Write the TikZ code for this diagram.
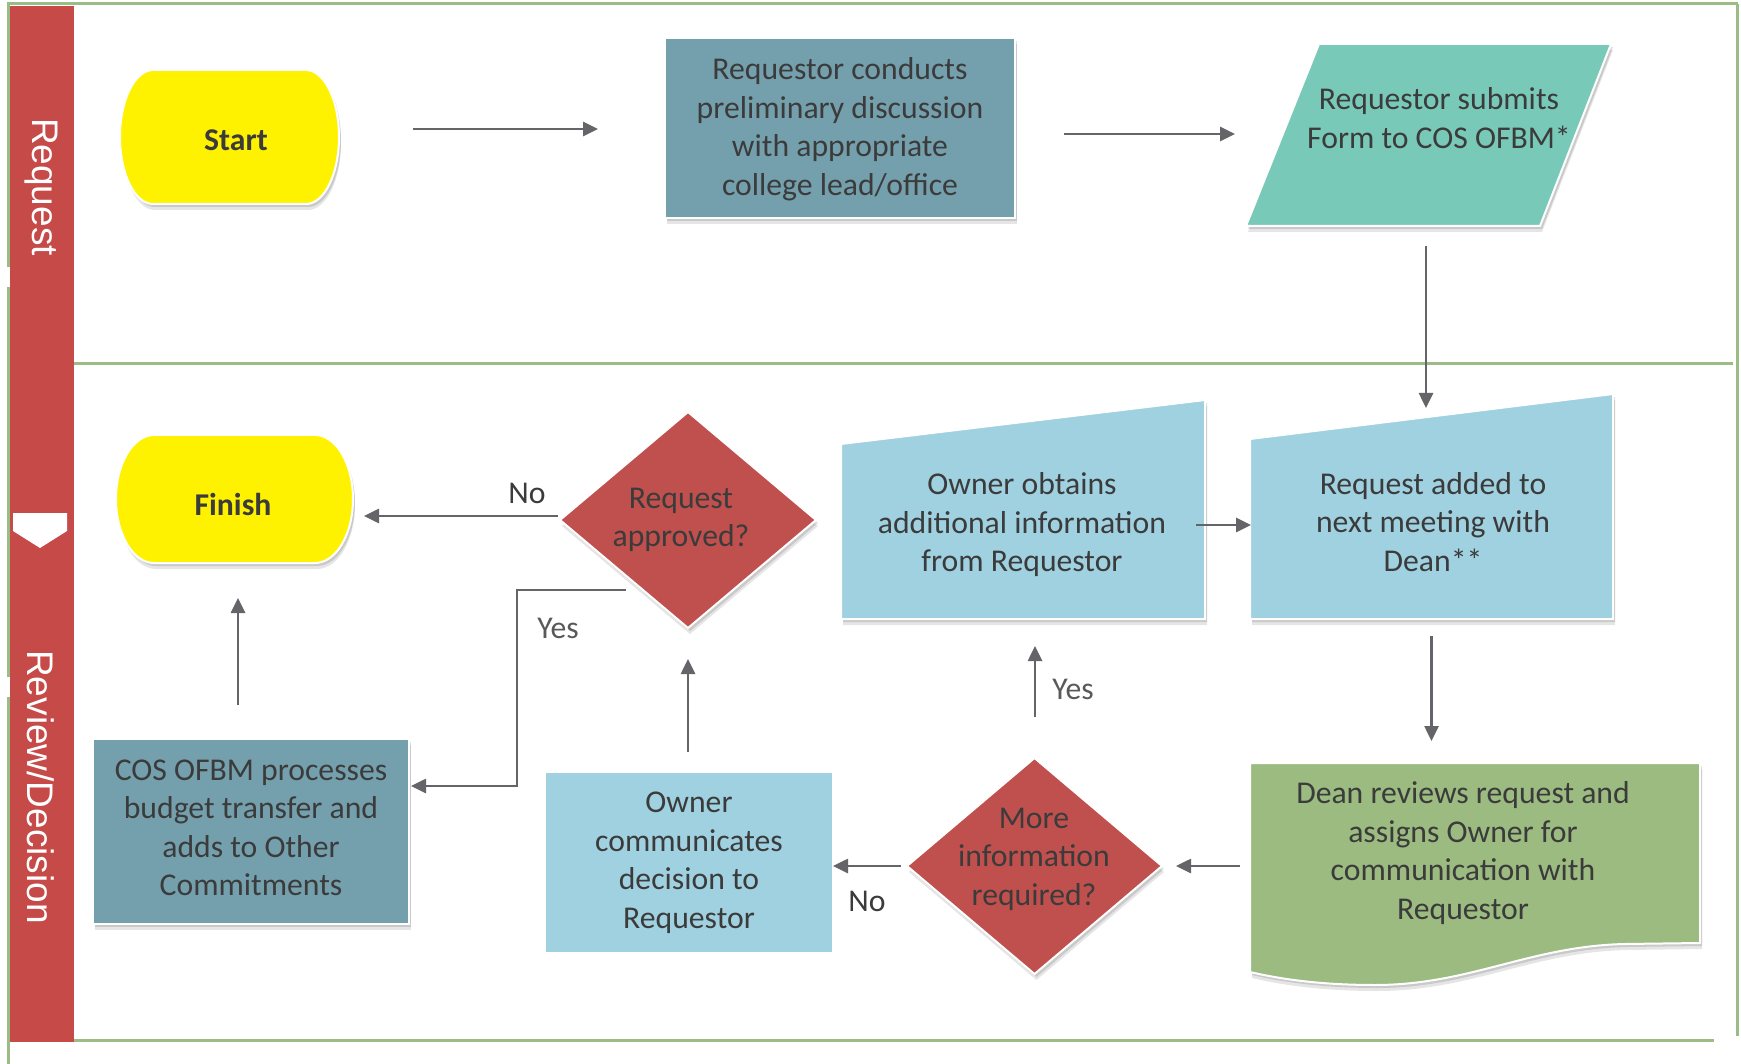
\documentclass[tikz,border=0pt]{standalone}
\usepackage{fontspec}
\setmainfont{Carlito}
\newfontfamily\lanefont{Liberation Sans}
\usetikzlibrary{arrows.meta,shadows}
\definecolor{framegreen}{HTML}{9CBC86}
\definecolor{lanered}{HTML}{C54A48}
\definecolor{steelbox}{HTML}{74A0AD}
\definecolor{tealbox}{HTML}{79C9B9}
\definecolor{lightblue}{HTML}{9FD1E0}
\definecolor{diamondred}{HTML}{C0504D}
\definecolor{docgreen}{HTML}{9BBB80}
\definecolor{textdark}{HTML}{3B3B3B}
\definecolor{arrowgrey}{HTML}{646469}
\definecolor{labelgrey}{HTML}{595959}
\begin{document}
\begin{tikzpicture}[x=1pt,y=-1pt,
  shapebox/.style={fill=#1, draw=white, line width=2pt, line join=miter,
     drop shadow={shadow xshift=2pt, shadow yshift=-6pt, opacity=0.10, fill=black},
     drop shadow={shadow xshift=2pt, shadow yshift=-3pt, opacity=0.12, fill=black}},
  flatbox/.style={fill=#1},
  txt/.style={text=textdark, align=center, inner sep=0pt,
     font=\fontsize{31.7}{38.5}\selectfont},
  boldtxt/.style={text=textdark, inner sep=0pt,
     font=\fontsize{31.7}{38.5}\selectfont\bfseries},
  lbl/.style={inner sep=0pt, font=\fontsize{31.7}{38.5}\selectfont},
  lanetxt/.style={text=white, inner sep=0pt, rotate=-90,
     font=\lanefont\fontsize{37}{44}\selectfont},
  arr/.style={draw=arrowgrey, line width=2.6pt,
     -{Triangle[length=15pt,width=14pt]}},
  frameline/.style={draw=framegreen, line width=3pt}]
\useasboundingbox (0,0) rectangle (1741,1064);
\fill[white] (0,0) rectangle (1741,1064);

% frame lines
\draw[frameline] (7,4) -- (1738,4);
\draw[frameline] (1737,4) -- (1737,1036);
\draw[frameline] (74,364) -- (1733,364);
\draw[frameline] (74,1040) -- (1714,1040);
\draw[frameline] (8,4) -- (8,267);
\draw[frameline] (8,287) -- (8,677);
\draw[frameline] (8,697) -- (8,1064);

% lane bar
\fill[lanered] (10,6) rectangle (74,1042);
\fill[white] (13,513) -- (67,513) -- (67,531) -- (40,548) -- (13,531) -- cycle;
\node[lanetxt] (laneRequest) at (41,187) {Request};
\node[lanetxt] (laneReview) at (41,787) {Review/Decision};

% Start terminal
\path[shapebox=yellow] (153,70) -- (306,70)
   arc[start angle=-90, end angle=90, x radius=33, y radius=67]
   -- (153,204)
   arc[start angle=90, end angle=270, x radius=33, y radius=67] -- cycle;
\node[boldtxt] (start) at (236,140) {Start};

% Requestor conducts
\path[shapebox=steelbox] (665,38) rectangle (1015,218);
\node[txt] (conduct) at (840,129) {Requestor conducts\\preliminary discussion\\with appropriate\\college lead/office};

% Requestor submits (parallelogram)
\path[shapebox=tealbox] (1319,44) -- (1611,44) -- (1540,226) -- (1246,226) -- cycle;
\node[txt] (submit) at (1439,118) {Requestor submits\\Form to COS OFBM*};

% Request added (manual input)
\path[shapebox=lightblue] (1250,439) -- (1613,394) -- (1613,619) -- (1250,619) -- cycle;
\node[txt] (added) at (1433,522) {Request added to\\next meeting with\\Dean**};

% Owner obtains (manual input)
\path[shapebox=lightblue] (841,444) -- (1205,400) -- (1205,619) -- (841,619) -- cycle;
\node[txt] (obtain) at (1022,525) {Owner obtains\\additional information\\from Requestor};

% Dean reviews (document)
\path[shapebox=docgreen] (1250,763) -- (1700,763) -- (1700,943)
   -- (1625,944) .. controls (1530,946) and (1470,985) .. (1375,985)
   .. controls (1320,985) and (1280,979) .. (1250,972) -- cycle;
\node[txt] (dean) at (1463,853) {Dean reviews request and\\assigns Owner for\\communication with\\Requestor};

% More information diamond
\path[shapebox=diamondred] (907,866) -- (1034.5,758) -- (1162,866) -- (1034.5,974) -- cycle;
\node[txt] (moreinfo) at (1034,859) {More\\information\\required?};

% Owner communicates
\path[flatbox=lightblue] (546,773) rectangle (832,952);
\node[txt] (communicate) at (689,863) {Owner\\communicates\\decision to\\Requestor};

% Request approved diamond
\path[shapebox=diamondred] (560,520) -- (688,412) -- (816,520) -- (688,628) -- cycle;
\node[txt] (approved) at (681,520) {Request\\approved?};

% Finish terminal
\path[shapebox=yellow] (154,435) -- (315,435)
   arc[start angle=-90, end angle=90, x radius=38, y radius=64]
   -- (154,563)
   arc[start angle=90, end angle=270, x radius=38, y radius=64] -- cycle;
\node[boldtxt] (finish) at (233,504) {Finish};

% COS OFBM processes
\path[shapebox=steelbox] (93,739) rectangle (409,924);
\node[txt] (cos) at (251,828) {COS OFBM processes\\budget transfer and\\adds to Other\\Commitments};

% connector end points
\coordinate (a1s) at (413,129);   \coordinate (a1e) at (598,129);
\coordinate (a2s) at (1064,134);  \coordinate (a2e) at (1235,134);
\coordinate (a3s) at (1426,246);  \coordinate (a3e) at (1426,408);
\coordinate (a4s) at (1196,525);  \coordinate (a4e) at (1251,525);
\coordinate (a5s) at (1431.5,636);\coordinate (a5e) at (1431.5,741);
\coordinate (a6s) at (1240,866);  \coordinate (a6e) at (1176,866);
\coordinate (a7s) at (901,866);   \coordinate (a7e) at (833,866);
\coordinate (a8s) at (1035,717);  \coordinate (a8e) at (1035,646);
\coordinate (a9s) at (688,752);   \coordinate (a9e) at (688,659);
\coordinate (a10s) at (558,516);  \coordinate (a10e) at (364,516);
\coordinate (a11s) at (626,590);  \coordinate (a11b) at (517,590);
\coordinate (a11c) at (517,786);  \coordinate (a11e) at (411,786);
\coordinate (a12s) at (238,705);  \coordinate (a12e) at (238,598);

\draw[arr] (a1s) -- (a1e);
\draw[arr] (a2s) -- (a2e);
\draw[arr] (a3s) -- (a3e);
\draw[arr] (a4s) -- (a4e);
\draw[arr] (a5s) -- (a5e);
\draw[arr] (a6s) -- (a6e);
\draw[arr] (a7s) -- (a7e);
\draw[arr] (a8s) -- (a8e);
\draw[arr] (a9s) -- (a9e);
\draw[arr] (a10s) -- (a10e);
\draw[arr] (a11s) -- (a11b) -- (a11c) -- (a11e);
\draw[arr] (a12s) -- (a12e);

% labels
\node[lbl, text=textdark] (noA) at (527,493) {No};
\node[lbl, text=labelgrey] (yesA) at (558,628) {Yes};
\node[lbl, text=labelgrey] (yesB) at (1073,689) {Yes};
\node[lbl, text=textdark] (noB) at (867,901) {No};
\end{tikzpicture}
\end{document}
